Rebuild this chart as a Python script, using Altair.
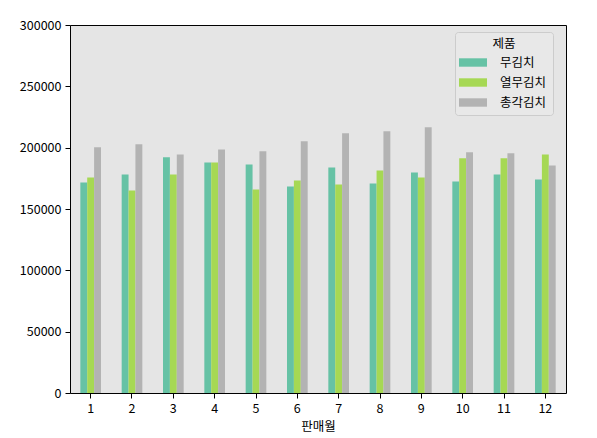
import altair as alt
import pandas as pd

months = list(range(1, 13))
series = ["무김치", "열무김치", "총각김치"]
mu = [171600, 178100, 192100, 188000, 186300, 168300, 183900, 170800, 179800, 172400, 178100, 174000]
yeolmu = [175700, 165000, 178100, 188000, 165800, 173200, 169900, 181400, 175700, 191300, 191300, 194500]
chonggak = [200300, 202700, 194500, 198600, 197000, 205200, 211700, 213400, 216700, 196200, 195400, 185500]
colors = ["#66c2a5", "#a6d854", "#b3b3b3"]

rows = []
for s, vals in zip(series, [mu, yeolmu, chonggak]):
    for m, v in zip(months, vals):
        rows.append({"판매월": m, "제품": s, "판매량": v})
df = pd.DataFrame(rows)

FONT = "Noto Sans CJK KR"

chart = alt.Chart(df).mark_bar().encode(
    x=alt.X("판매월:O", sort=months,
            scale=alt.Scale(paddingInner=0.5, paddingOuter=0.25),
            axis=alt.Axis(labelAngle=0, title="판매월", domain=False,
                          ticks=True, tickColor="black", tickSize=5,
                          labelColor="black", labelFontSize=12.5, labelFont=FONT,
                          titleFont=FONT, titleFontSize=12.5, titleFontWeight="normal",
                          titleColor="black", labelPadding=4, titlePadding=6)),
    xOffset=alt.XOffset("제품:N", sort=series, scale=alt.Scale(paddingInner=0, paddingOuter=0)),
    y=alt.Y("판매량:Q", scale=alt.Scale(domain=[0, 300000], nice=False),
            axis=alt.Axis(title=None, values=list(range(0, 300001, 50000)), format="d",
                          domain=False, grid=False, tickColor="black", tickSize=5,
                          labelColor="black", labelFontSize=12.5, labelFont=FONT,
                          labelPadding=4)),
    color=alt.Color("제품:N", sort=series,
                    scale=alt.Scale(domain=series, range=colors),
                    legend=alt.Legend(title="제품", orient="none", legendX=385, legendY=7,
                                      fillColor="#e8e8e8", strokeColor="#cccccc",
                                      cornerRadius=3, padding=6,
                                      symbolType="M-2,-0.6H2V0.6H-2Z", symbolSize=196,
                                      symbolStrokeWidth=0, symbolOffset=5,
                                      labelOffset=20, rowPadding=6,
                                      titleAnchor="middle", titleAlign="center",
                                      titlePadding=5, titleFont=FONT, titleFontSize=12.5,
                                      titleFontWeight="normal", titleColor="black",
                                      labelFont=FONT, labelFontSize=12.5, labelColor="black")),
).properties(
    width=496, height=368,
    background="white",
    autosize=alt.AutoSizeParams(type="none"),
    padding={"left": 62, "top": 17, "right": 20, "bottom": 45},
).configure_view(
    fill="#e5e5e5", stroke="black", strokeWidth=1
)

chart.save("out.html", embed_options={"renderer": "svg", "actions": False})
